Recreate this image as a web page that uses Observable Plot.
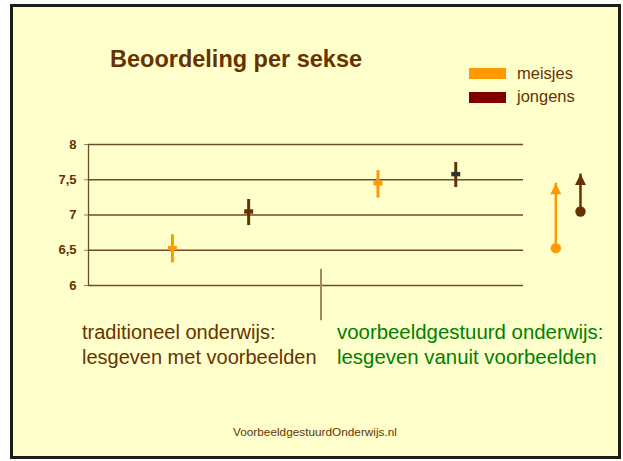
<!DOCTYPE html>
<html>
<head>
<meta charset="utf-8">
<script src="https://cdn.jsdelivr.net/npm/d3@7"></script>
<script src="https://cdn.jsdelivr.net/npm/@observablehq/plot@0.6"></script>
<style>
  html, body { margin: 0; padding: 0; background: #ffffff; }
  #page { position: relative; width: 623px; height: 461px; overflow: hidden; background: #ffffff;
          font-family: "Liberation Sans", Arial, sans-serif; }
  #frame { position: absolute; left: 10px; top: 4px; width: 611px; height: 455px; box-sizing: border-box;
           border: 3px solid #1e1e14; background: #ffffcc; }
  .t { position: absolute; white-space: nowrap; line-height: 1; }
  #title { left: 110px; top: 47.5px; font-size: 23.5px; font-weight: bold; color: #663300; }
  .sw { position: absolute; left: 469px; width: 37px; height: 11px; }
  .lg { left: 517px; font-size: 16.5px; color: #663300; }
  .cap { font-size: 20px; line-height: 25px; }
  #foot { left: 233px; top: 426.5px; font-size: 11.8px; color: #663300; }
  #chart { position: absolute; left: 0; top: 134px; }
</style>
</head>
<body>
<div id="page">
  <div id="frame"></div>
  <div id="title" class="t">Beoordeling per sekse</div>
  <div class="sw" style="top:68px;background:#ff9900"></div>
  <div class="t lg" style="top:65px">meisjes</div>
  <div class="sw" style="top:92px;background:#800000"></div>
  <div class="t lg" style="top:87.5px">jongens</div>
  <div class="t cap" style="left:82px;top:320px;color:#663300">traditioneel onderwijs:<br>lesgeven met voorbeelden</div>
  <div class="t cap" style="left:337px;top:320px;color:#008000;font-size:20.4px">voorbeeldgestuurd onderwijs:<br>lesgeven vanuit voorbeelden</div>
  <div id="foot" class="t">VoorbeeldgestuurdOnderwijs.nl</div>
  <div id="chart"></div>
</div>
<script>
// ---- data ----
const sexes   = ["meisjes", "jongens", "meisjes", "jongens"];
const methods = ["traditioneel", "traditioneel", "voorbeeldgestuurd", "voorbeeldgestuurd"];
const xPos    = [1.09, 2.08, 3.76, 4.77];
const means   = [6.53, 7.05, 7.45, 7.58];
const lows    = [6.32, 6.85, 7.24, 7.39];
const highs   = [6.72, 7.22, 7.63, 7.745];

const yTicks      = [6, 6.5, 7, 7.5, 8];
const yTickLabels = ["6", "6,5", "7", "7,5", "8"];

const arrowSexes = ["meisjes", "jongens"];
const arrowX     = [6.07, 6.39];
const separatorX = [3.02];
const separatorY = [5.5, 6.23];

// ---- styles ----
const sexColor   = {meisjes: "#ff9900", jongens: "#663300"};
const crossColor = ["#ff9900", "#663300", "#ff9900", "#333333"];
const gridColor  = "#6e4d22";

const points = sexes.map((s, i) => ({sex: s, method: methods[i], x: xPos[i], mean: means[i], lo: lows[i], hi: highs[i], cc: crossColor[i]}));
const arrows = arrowSexes.map((s, i) => {
  const trad = points.find(p => p.sex === s && p.method === "traditioneel");
  const vgo  = points.find(p => p.sex === s && p.method === "voorbeeldgestuurd");
  return {sex: s, x: arrowX[i], from: trad.mean, to: vgo.mean};
});

const hbar = {draw(ctx) { ctx.rect(-4.5, -2.2, 9, 4.4); }};
const head = {draw(ctx) { ctx.moveTo(0, 0); ctx.lineTo(5.5, 11); ctx.lineTo(-5.5, 11); ctx.closePath(); }};

const chart = Plot.plot({
  width: 623,
  height: 200,
  marginTop: 10,
  marginBottom: 49,
  marginLeft: 88,
  marginRight: 100,
  style: {background: "transparent", overflow: "visible", fontFamily: "'Liberation Sans', Arial, sans-serif"},
  x: {domain: [0, 5.65], axis: null},
  y: {domain: [6, 8], axis: null},
  marks: [
    Plot.ruleY(yTicks, {stroke: gridColor, strokeWidth: 1.3}),
    Plot.ruleX([0], {y1: 6, y2: 8, stroke: gridColor, strokeWidth: 1.3}),
    Plot.axisY({ticks: yTicks, tickFormat: d => yTickLabels[yTicks.indexOf(d)], tickSize: 4, tickPadding: 8,
                stroke: "#808080", fill: "#663300", fontSize: 13, fontWeight: "bold", label: null}),
    Plot.ruleX(separatorX, {y1: separatorY[0], y2: separatorY[1], stroke: "#a8885a", strokeWidth: 2}),
    Plot.ruleX(points, {x: "x", y1: "lo", y2: "hi", stroke: d => sexColor[d.sex], strokeWidth: 3}),
    Plot.dot(points, {x: "x", y: "mean", symbol: hbar, fill: "cc", stroke: "none"}),
    Plot.ruleX(arrows, {x: "x", y1: "from", y2: "to", stroke: d => sexColor[d.sex], strokeWidth: 2.5}),
    Plot.dot(arrows, {x: "x", y: "from", r: 5.2, fill: d => sexColor[d.sex], stroke: "none"}),
    Plot.dot(arrows, {x: "x", y: "to", symbol: head, fill: d => sexColor[d.sex], stroke: "none"})
  ]
});
document.getElementById("chart").appendChild(chart);
</script>
</body>
</html>
